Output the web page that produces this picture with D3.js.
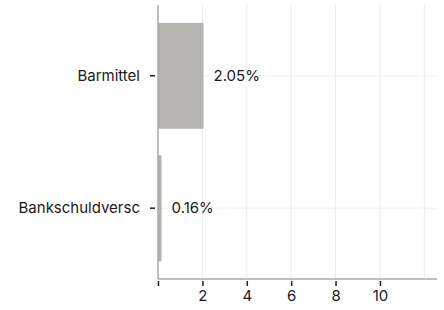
<!DOCTYPE html>
<html>
<head>
<meta charset="utf-8">
<script src="https://cdn.jsdelivr.net/npm/d3@7"></script>
<style>
  body { margin: 0; background: #fff; }
  svg text { font-family: Inter, "Noto Sans", sans-serif; }
</style>
</head>
<body>
<div id="chart"></div>
<script>
// Data
const categories = ['Barmittel', 'Bankschuldversc'];
const values = [2.05, 0.16];
const xTicks = [0, 2, 4, 6, 8, 10];
const xGrid = [2, 4, 6, 8, 10, 12];

const W = 444, H = 310;
const margin = { top: 5, right: 7, bottom: 31, left: 158 };
const FS = '15px';

const svg = d3.select('#chart').append('svg')
  .attr('width', W).attr('height', H);

const x = d3.scaleLinear().domain([0, 12.57])
  .range([margin.left, W - margin.right]);

const y = d3.scaleBand().domain(categories)
  .range([margin.top, H - margin.bottom])
  .paddingInner(0.2).paddingOuter(0.135);

// Grid
svg.append('g').selectAll('line.v').data(xGrid).join('line')
  .attr('x1', d => x(d)).attr('x2', d => x(d))
  .attr('y1', margin.top).attr('y2', H - margin.bottom)
  .attr('stroke', '#ebebeb').attr('stroke-width', 1);

svg.append('g').selectAll('line.h').data(categories).join('line')
  .attr('x1', margin.left).attr('x2', W - margin.right)
  .attr('y1', d => y(d) + y.bandwidth() / 2).attr('y2', d => y(d) + y.bandwidth() / 2)
  .attr('stroke', '#f0f0f0').attr('stroke-width', 1);

// Bars
svg.append('g').selectAll('rect').data(categories).join('rect')
  .attr('x', x(0))
  .attr('y', d => y(d))
  .attr('width', (d, i) => x(values[i]) - x(0))
  .attr('height', y.bandwidth())
  .attr('fill', '#b5b4b0');

// Value labels
svg.append('g').selectAll('text').data(categories).join('text')
  .attr('x', (d, i) => x(values[i]) + 10)
  .attr('y', d => y(d) + y.bandwidth() / 2)
  .attr('dy', '0.35em')
  .attr('font-size', FS)
  .attr('fill', '#1a1a1a')
  .text((d, i) => values[i].toFixed(2) + '%');

// Y axis
const yAxis = svg.append('g')
  .attr('transform', `translate(${margin.left},0)`)
  .call(d3.axisLeft(y).tickSize(6).tickPadding(12));
yAxis.select('.domain').attr('stroke', '#aaa').attr('stroke-width', 1.5)
  .attr('d', `M0,${margin.top}V${H - margin.bottom}`);
yAxis.selectAll('.tick line').attr('stroke', '#222').attr('stroke-width', 1.5)
  .attr('x1', -8).attr('x2', -3);
yAxis.selectAll('.tick text').attr('font-size', FS).attr('fill', '#1a1a1a')
  .attr('font-family', 'Inter, "Noto Sans", sans-serif');

// X axis
const xAxis = svg.append('g')
  .attr('transform', `translate(0,${H - margin.bottom})`)
  .call(d3.axisBottom(x).tickValues(xTicks).tickSize(7).tickPadding(4)
    .tickFormat(d => d === 0 ? '' : d));
xAxis.select('.domain').attr('stroke', '#aaa').attr('stroke-width', 1.5)
  .attr('d', `M${margin.left},0H${W - margin.right}`);
xAxis.selectAll('.tick line').attr('stroke', '#222').attr('stroke-width', 1.5)
  .attr('y1', 2);
xAxis.selectAll('.tick text').attr('font-size', FS).attr('fill', '#1a1a1a')
  .attr('font-family', 'Inter, "Noto Sans", sans-serif');
</script>
</body>
</html>
